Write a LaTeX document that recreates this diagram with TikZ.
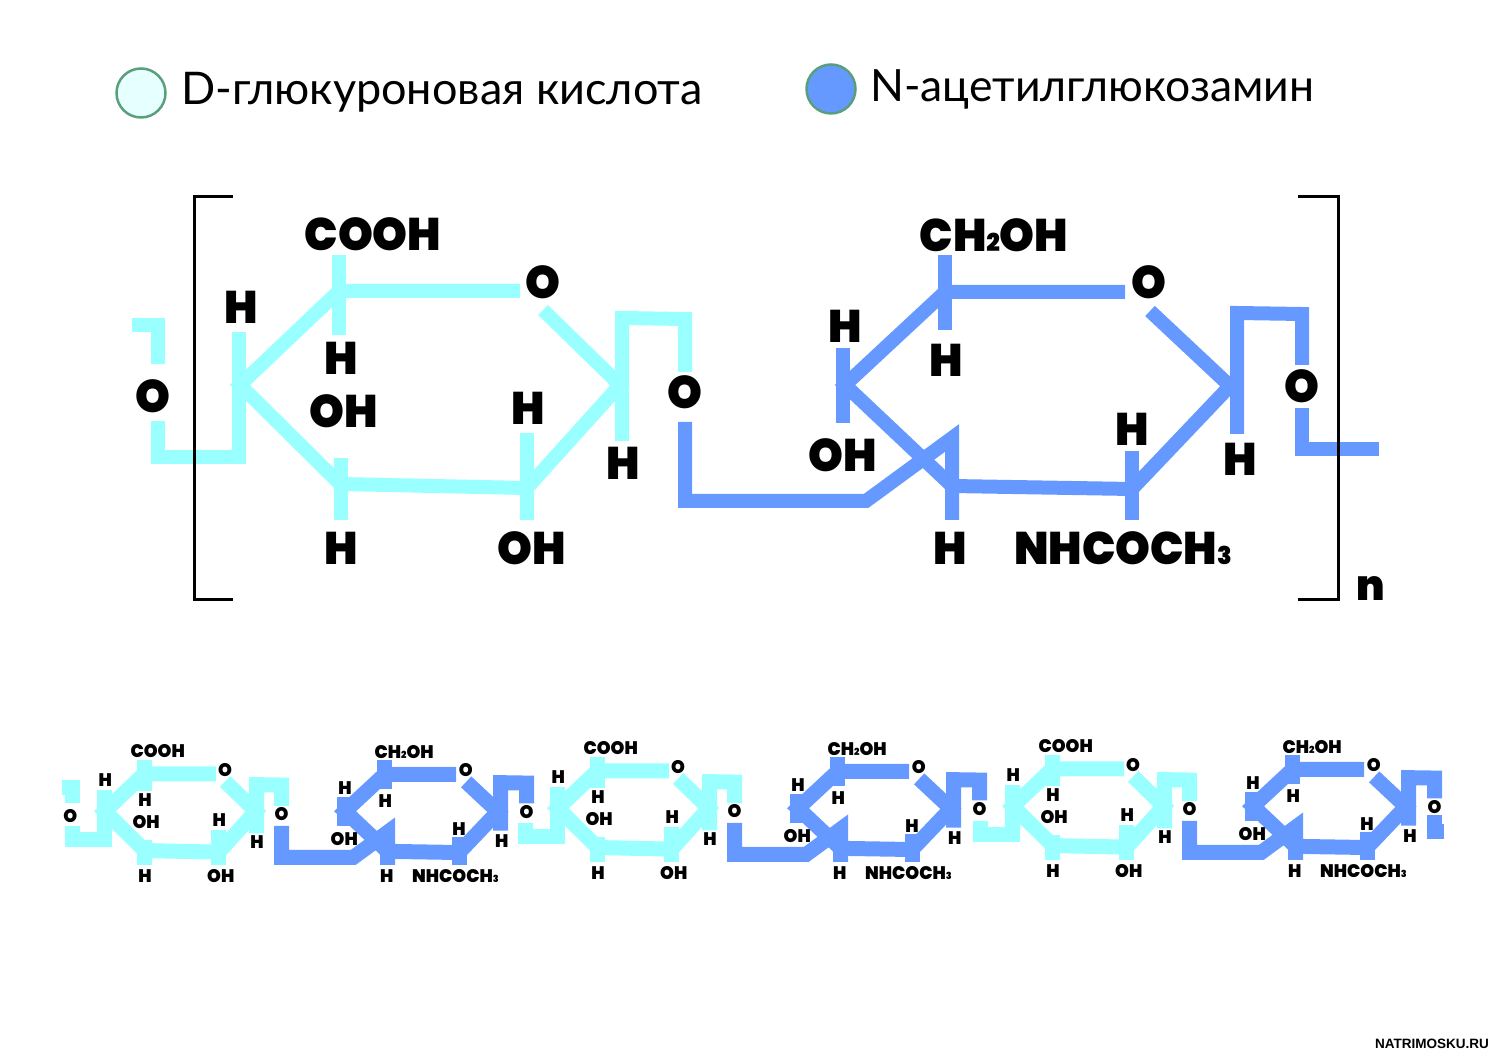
\documentclass[tikz,border=0pt]{standalone}
\usepackage{fontspec}
\usepackage{xcolor}
\usepackage{tikz}
\setmainfont{Lato}
\newfontfamily\chemfont{Poppins}[UprightFont=* Black, FakeStretch=0.97]
\newfontfamily\markfont{Liberation Sans}

\definecolor{gluc}{HTML}{99FFFF}
\definecolor{nag}{HTML}{6699FF}
\definecolor{ringgreen}{HTML}{5A9F7C}

\tikzset{
	bondc/.style={draw=gluc, line width=0.28cm},
	bondn/.style={draw=nag, line width=0.28cm},
	lbl/.style={font=\chemfont\fontsize{26}{26}\selectfont, inner sep=0, text=black},
	legend/.style={font=\fontsize{25.6}{26}\selectfont, inner sep=0, anchor=base west},
	dot/.style={circle, draw=ringgreen, line width=0.05cm, minimum size=0.98cm, inner sep=0},
	brack/.style={draw=black, line width=0.06cm},
	smallunit/.style={scale=0.397, transform shape,
		bondc/.append style={line width=0.3cm}, bondn/.append style={line width=0.3cm}}
}

\newcommand{\chemsub}[1]{{\fontsize{14}{14}\selectfont #1}}

\newcommand{\cyanstart}{
	\draw[bondc] (132,325)--(158,325)--(158,364);
	\node[lbl] (ol) at (153,396) {O};
}

\newcommand{\cyanunit}{
	\draw[bondc] (158,421)--(158,457)--(239,457)--(239,332);
	\draw[bondc] (339,255)--(339,335);
	\draw[bondc] (341,458)--(341,520);
	\draw[bondc] (527,433)--(527,520);
	\draw[bondc] (520,291)--(339,291)--(240,385)--(340,484)--(527,488)--(620,385)--(543,310);
	\draw[bondc] (622,441)--(622,318)--(685,319)--(685,372);
	\node[lbl] (cooh) at (373,234) {COOH};
	\node[lbl] (ha) at (241,307) {H};
	\node[lbl] (hb) at (341,358) {H};
	\node[lbl] (oha) at (344,411) {OH};
	\node[lbl] (hc) at (528,408) {H};
	\node[lbl] (hd) at (623,463) {H};
	\node[lbl] (he) at (341,548) {H};
	\node[lbl] (ohb) at (532,548) {OH};
	\node[lbl] (oa) at (543,282) {O};
	\node[lbl] (ob) at (685,392) {O};
}

\newcommand{\blueunit}{
	\draw[bondn] (685,422)--(685,501)--(866,501)--(952,438)--(952,520);
	\draw[bondn] (945,255)--(945,330);
	\draw[bondn] (843,348)--(843,423);
	\draw[bondn] (1132,451)--(1132,520);
	\draw[bondn] (1125,292)--(945,292)--(845,385)--(952,486)--(1132,489)--(1230,386)--(1150,311);
	\draw[bondn] (1237,434)--(1237,313)--(1302,314)--(1302,365);
	\node[lbl] (choh) at (994,235) {CH\chemsub{2}OH};
	\node[lbl] (hf) at (845,326) {H};
	\node[lbl] (hg) at (946,360) {H};
	\node[lbl] (ohc) at (843,455) {OH};
	\node[lbl] (hh) at (1132,429) {H};
	\node[lbl] (hi) at (1240,459) {H};
	\node[lbl] (hj) at (950,548) {H};
	\node[lbl] (nh) at (1123,548) {NHCOCH\chemsub{3}};
	\node[lbl] (oc) at (1149,282) {O};
	\node[lbl] (od) at (1302,386) {O};
}

\newcommand{\bluetail}[1]{
	\draw[bondn] (1302,408)--(1302,449)--(#1,449);
}

\begin{document}
\begin{tikzpicture}[x=0.02cm, y=-0.02cm]

\useasboundingbox (0,0) rectangle (1499,1060);

\node[dot, fill=gluc!25!white] (dota) at (141,93) {};
\node[legend] (texta) at (181,104.5) {D-глюкуроновая кислота};
\node[dot, fill=nag] (dotb) at (831,89) {};
\node[legend, font=\fontsize{25.3}{26}\selectfont] (textb) at (870,102) {N-ацетилглюкозамин};

\cyanstart
\cyanunit
\blueunit
\bluetail{1379}

\draw[brack] (233,197)--(194,197)--(194,600)--(233,600);
\draw[brack] (1298,197)--(1338,197)--(1338,600)--(1298,600);
\node[lbl, font=\chemfont\fontsize{24}{24}\selectfont] (n) at (1371,589) {n};

\begin{scope}[shift={(9.6,658.4)}, smallunit]
\cyanstart
\end{scope}

\foreach \b/\c in {0/0, 453/-3, 908/-5}{
	\begin{scope}[shift={(9.6+\b,658.4+\c)}, smallunit]
	\cyanunit
	\blueunit
	\end{scope}
}

\begin{scope}[shift={(917.6,653.4)}, smallunit]
\bluetail{1327}
\end{scope}

\node[font=\markfont\bfseries\fontsize{7.7}{8}\selectfont, inner sep=0] (site) at (1432,1044) {NATRIMOSKU.RU};

\end{tikzpicture}
\end{document}
